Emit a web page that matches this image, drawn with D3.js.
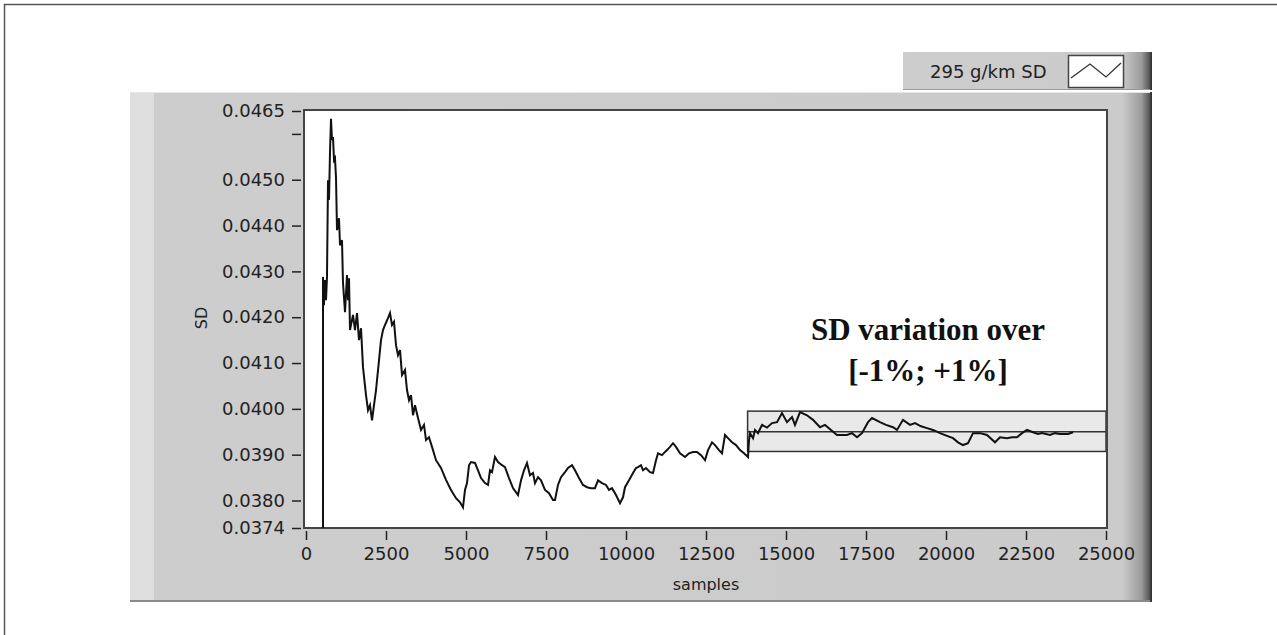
<!DOCTYPE html>
<html lang="en">
<head>
<meta charset="UTF-8">
<title>SD vs samples</title>
<style>
  body { margin: 0; background: #fff; }
  svg { display: block; }
  .tick text { font-family: "DejaVu Sans", sans-serif; font-size: 18px; fill: #222; }
  .tick line { stroke: #222; stroke-width: 1.5; }
  .title { font-family: "DejaVu Sans", sans-serif; font-size: 16px; fill: #222; }
  .note { font-family: "Liberation Serif", serif; font-weight: bold; font-size: 31px; fill: #111; }
</style>
<script src="https://d3js.org/d3.v7.min.js"></script>
</head>
<body>
<svg width="1277" height="635"></svg>
<script>
// values
const samples = [
  531, 531, 560, 594, 625, 656, 688, 719, 750, 781, 812, 844, 875, 906, 938, 969,
  1031, 1063, 1125, 1156, 1219, 1281, 1313, 1344, 1375, 1469, 1531, 1594, 1656, 1719,
  1781, 1875, 1938, 2000, 2063, 2125, 2188, 2281, 2344, 2406, 2469, 2563, 2625, 2688,
  2750, 2813, 2875, 2938, 3000, 3094, 3156, 3219, 3281, 3344, 3406, 3500, 3594, 3688,
  3750, 3844, 3938, 4063, 4219, 4375, 4531, 4688, 4813, 4906, 4969, 5031, 5094, 5156,
  5281, 5375, 5469, 5594, 5688, 5750, 5813, 5906, 6000, 6125, 6219, 6344, 6469, 6625,
  6719, 6813, 6906, 7000, 7094, 7156, 7250, 7344, 7469, 7594, 7719, 7781, 7875, 7969,
  8094, 8188, 8313, 8406, 8531, 8656, 8781, 8906, 9031, 9125, 9250, 9375, 9469, 9563,
  9688, 9813, 9906, 9969, 10094, 10219, 10313, 10375, 10469, 10531, 10625, 10750, 10844,
  10938, 11000, 11125, 11219, 11281, 11375, 11469, 11563, 11688, 11844, 11969, 12094,
  12219, 12344, 12469, 12563, 12688, 12781, 12906, 13000, 13094, 13188, 13313, 13438,
  13563, 13688, 13813, 13844, 13875, 13969, 14031, 14125, 14250, 14406, 14563, 14719,
  14875, 15031, 15188, 15281, 15438, 15656, 15844, 16063, 16219, 16406, 16594, 16906,
  17063, 17219, 17375, 17563, 17688, 17938, 18125, 18344, 18469, 18656, 18875, 19031,
  19219, 19406, 19594, 19813, 20031, 20219, 20375, 20531, 20688, 20844, 21063, 21281,
  21531, 21688, 21906, 22063, 22219, 22375, 22531, 22719, 22875, 23000, 23250, 23406,
  23563, 23813, 23969
];
const sd = [
  0.03740, 0.04288, 0.04226, 0.04281, 0.04237, 0.04288, 0.04499, 0.04456, 0.04560, 0.04633,
  0.04587, 0.04593, 0.04543, 0.04547, 0.04504, 0.04390, 0.04416, 0.04357, 0.04368, 0.04275,
  0.04211, 0.04292, 0.04237, 0.04285, 0.04172, 0.04205, 0.04172, 0.04209, 0.04150, 0.04176,
  0.04091, 0.04030, 0.03997, 0.04008, 0.03975, 0.04008, 0.04041, 0.04106, 0.04150, 0.04172,
  0.04183, 0.04198, 0.04209, 0.04183, 0.04190, 0.04139, 0.04117, 0.04128, 0.04074, 0.04085,
  0.04041, 0.04019, 0.04030, 0.03986, 0.04008, 0.03980, 0.03954, 0.03965, 0.03932, 0.03938,
  0.03917, 0.03888, 0.03871, 0.03845, 0.03823, 0.03805, 0.03796, 0.03785, 0.03823, 0.03838,
  0.03877, 0.03884, 0.03882, 0.03866, 0.03849, 0.03838, 0.03834, 0.03866, 0.03862, 0.03895,
  0.03884, 0.03877, 0.03873, 0.03849, 0.03827, 0.03812, 0.03844, 0.03866, 0.03882, 0.03855,
  0.03860, 0.03838, 0.03851, 0.03844, 0.03823, 0.03816, 0.03801, 0.03801, 0.03834, 0.03851,
  0.03862, 0.03871, 0.03877, 0.03866, 0.03849, 0.03834, 0.03829, 0.03827, 0.03827, 0.03844,
  0.03838, 0.03834, 0.03823, 0.03827, 0.03812, 0.03794, 0.03807, 0.03829, 0.03844, 0.03860,
  0.03871, 0.03873, 0.03877, 0.03866, 0.03871, 0.03862, 0.03860, 0.03888, 0.03903, 0.03899,
  0.03906, 0.03910, 0.03917, 0.03925, 0.03917, 0.03903, 0.03895, 0.03903, 0.03906, 0.03906,
  0.03899, 0.03888, 0.03910, 0.03927, 0.03921, 0.03910, 0.03903, 0.03943, 0.03936, 0.03927,
  0.03921, 0.03910, 0.03903, 0.03895, 0.03932, 0.03947, 0.03936, 0.03954, 0.03947, 0.03965,
  0.03959, 0.03969, 0.03971, 0.03991, 0.03971, 0.03982, 0.03965, 0.03993, 0.03986, 0.03976,
  0.03960, 0.03965, 0.03954, 0.03943, 0.03943, 0.03947, 0.03938, 0.03947, 0.03971, 0.03980,
  0.03971, 0.03965, 0.03960, 0.03954, 0.03976, 0.03965, 0.03969, 0.03962, 0.03958, 0.03954,
  0.03947, 0.03941, 0.03936, 0.03927, 0.03921, 0.03925, 0.03947, 0.03947, 0.03943, 0.03927,
  0.03938, 0.03936, 0.03938, 0.03938, 0.03947, 0.03954, 0.03949, 0.03945, 0.03947, 0.03943,
  0.03947, 0.03945, 0.03945, 0.03949
];
const xTicks = [0, 2500, 5000, 7500, 10000, 12500, 15000, 17500, 20000, 22500, 25000];
const yTicks = [0.0374, 0.0380, 0.0390, 0.0400, 0.0410, 0.0420, 0.0430, 0.0440, 0.0450, 0.0460, 0.0465];
const yLabelled = [0.0374, 0.0380, 0.0390, 0.0400, 0.0410, 0.0420, 0.0430, 0.0440, 0.0450, 0.0465];
const bandSamples = [13800, 25000];
const bandSD = [0.03907, 0.03950, 0.03995];  // -1%, mean, +1%
const legendLabel = "295 g/km SD";
const noteLines = ["SD variation over", "[-1%; +1%]"];

const svg = d3.select("svg");
const defs = svg.append("defs");

// outer frame
svg.append("path")
  .attr("d", "M4.5,640V4.5H1280")
  .attr("fill", "none")
  .attr("stroke", "#555")
  .attr("stroke-width", 1.5);

// LabVIEW style panel gradients
function panelGradient(id, w) {
  const g = defs.append("linearGradient").attr("id", id)
    .attr("x1", 0).attr("x2", 1).attr("y1", 0).attr("y2", 0);
  const edge = 30 / w;
  g.append("stop").attr("offset", 0).attr("stop-color", "#cdcdcd");
  g.append("stop").attr("offset", 1 - edge).attr("stop-color", "#cbcbcb");
  g.append("stop").attr("offset", 1 - edge * 0.35).attr("stop-color", "#9c9c9c");
  g.append("stop").attr("offset", 1 - edge * 0.1).attr("stop-color", "#5a5a5a");
  g.append("stop").attr("offset", 1).attr("stop-color", "#2a2a2a");
}
panelGradient("panelGrad", 1022);
panelGradient("legendGrad", 249);

// legend
svg.append("rect")
  .attr("x", 903).attr("y", 52).attr("width", 249).attr("height", 38)
  .attr("fill", "url(#legendGrad)");
svg.append("line")
  .attr("x1", 903).attr("x2", 1150).attr("y1", 89.5).attr("y2", 89.5)
  .attr("stroke", "#999").attr("stroke-width", 1);
svg.append("text")
  .attr("class", "title")
  .style("font-size", "18px")
  .attr("x", 930).attr("y", 78)
  .text(legendLabel);
svg.append("rect")
  .attr("x", 1068.5).attr("y", 55.5).attr("width", 55).attr("height", 32)
  .attr("fill", "#fff").attr("stroke", "#444").attr("stroke-width", 1.5);
svg.append("polyline")
  .attr("points", "1071,78 1090,64 1106,77 1121,63")
  .attr("fill", "none").attr("stroke", "#333").attr("stroke-width", 1.3);

// main panel
svg.append("rect")
  .attr("x", 130).attr("y", 92).attr("width", 1022).attr("height", 510)
  .attr("fill", "url(#panelGrad)");
svg.append("rect")
  .attr("x", 130).attr("y", 92).attr("width", 24).attr("height", 508)
  .attr("fill", "#dedede");
svg.append("line")
  .attr("x1", 130).attr("x2", 1150).attr("y1", 92.5).attr("y2", 92.5)
  .attr("stroke", "#e6e6e6");
svg.append("line")
  .attr("x1", 130).attr("x2", 1150).attr("y1", 601).attr("y2", 601)
  .attr("stroke", "#8a8a8a").attr("stroke-width", 2);

const x = d3.scaleLinear().domain([0, 25000]).range([306, 1106]);
const y = d3.scaleLinear().domain([0.0374, 0.0465]).range([528, 111]);

// plot area
svg.append("rect")
  .attr("x", x(0) - 2).attr("y", y(0.0465) - 1)
  .attr("width", x(25000) - x(0) + 3).attr("height", y(0.0374) - y(0.0465) + 1)
  .attr("fill", "#fff").attr("stroke", "#444").attr("stroke-width", 2);

defs.append("clipPath").attr("id", "plotClip")
  .append("rect")
  .attr("x", x(0) - 1).attr("y", y(0.0465))
  .attr("width", x(25000) - x(0) + 1).attr("height", y(0.0374) - y(0.0465));

// axes
const fmt = d3.format(".4f");
svg.append("g")
  .attr("transform", "translate(301,0)")
  .call(d3.axisLeft(y).tickValues(yTicks).tickSize(9).tickSizeOuter(0).tickPadding(7)
    .tickFormat(d => yLabelled.includes(d) ? fmt(d) : ""))
  .call(g => g.select(".domain").remove());

svg.append("g")
  .attr("transform", "translate(0,531)")
  .call(d3.axisBottom(x).tickValues(xTicks).tickSize(9).tickSizeOuter(0).tickPadding(7)
    .tickFormat(d3.format("d")))
  .call(g => g.select(".domain").remove());

svg.append("text")
  .attr("class", "title")
  .attr("x", 706).attr("y", 590)
  .attr("text-anchor", "middle")
  .text("samples");

svg.append("text")
  .attr("class", "title")
  .attr("transform", "translate(207,318) rotate(-90)")
  .attr("text-anchor", "middle")
  .text("SD");

// +/-1% band
const plot = svg.append("g").attr("clip-path", "url(#plotClip)");
plot.append("rect")
  .attr("x", x(bandSamples[0])).attr("y", y(bandSD[2]))
  .attr("width", x(bandSamples[1]) - x(bandSamples[0]))
  .attr("height", y(bandSD[0]) - y(bandSD[2]))
  .attr("fill", "#e9e9e9").attr("stroke", "#333").attr("stroke-width", 1.5);
plot.append("line")
  .attr("x1", x(bandSamples[0])).attr("x2", x(bandSamples[1]))
  .attr("y1", y(bandSD[1])).attr("y2", y(bandSD[1]))
  .attr("stroke", "#333").attr("stroke-width", 1.5);

// SD curve
const line = d3.line()
  .x((d, i) => x(samples[i]))
  .y(d => y(d));
plot.append("path")
  .datum(sd)
  .attr("d", line)
  .attr("fill", "none")
  .attr("stroke", "#111")
  .attr("stroke-width", 2)
  .attr("stroke-linejoin", "miter");

// annotation
svg.append("text")
  .attr("class", "note")
  .attr("text-anchor", "middle")
  .selectAll("tspan")
  .data(noteLines)
  .join("tspan")
  .attr("x", 928)
  .attr("y", (d, i) => 340 + i * 41)
  .text(d => d);
</script>
</body>
</html>
